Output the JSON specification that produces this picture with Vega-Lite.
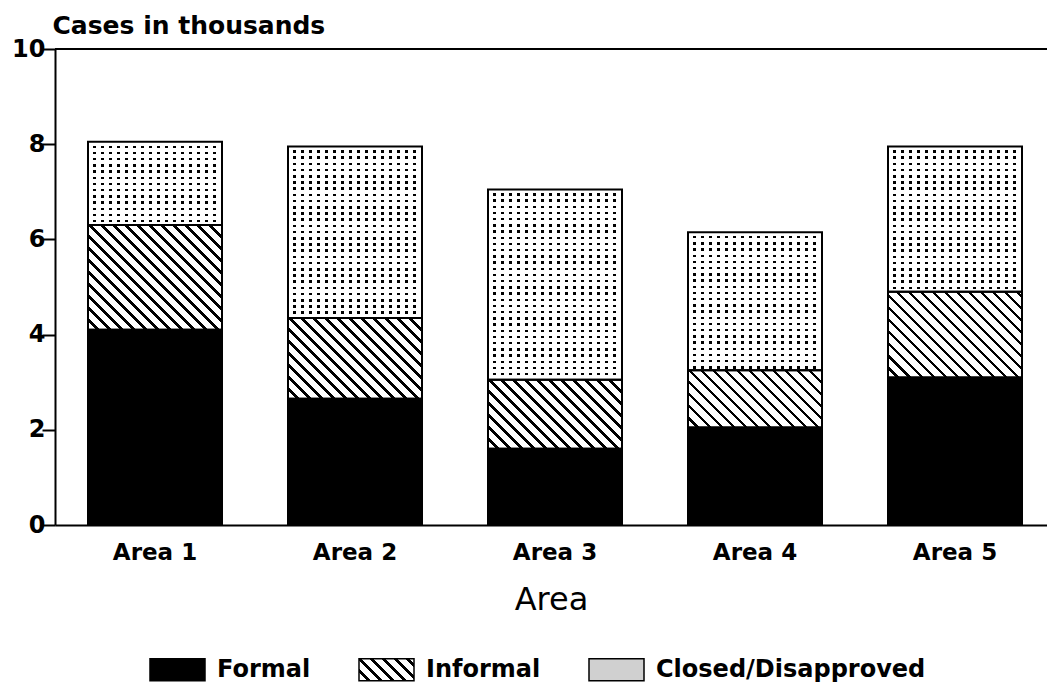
{
  "$schema": "https://vega.github.io/schema/vega-lite/v6.json",
  "width": 992,
  "height": 476,
  "autosize": {"type": "none"},
  "padding": {"left": 55, "top": 49, "right": 0, "bottom": 169},
  "background": "#ffffff",
  "config": {"view": {"stroke": null}},
  "params": [
    {"name": "hatchStops", "value": [
      {"offset":0,"color":"#fff"},{"offset":0.0175,"color":"#fff"},{"offset":0.0175,"color":"#000"},{"offset":0.025,"color":"#000"},
      {"offset":0.025,"color":"#fff"},{"offset":0.0425,"color":"#fff"},{"offset":0.0425,"color":"#000"},{"offset":0.05,"color":"#000"},
      {"offset":0.05,"color":"#fff"},{"offset":0.0675,"color":"#fff"},{"offset":0.0675,"color":"#000"},{"offset":0.075,"color":"#000"},
      {"offset":0.075,"color":"#fff"},{"offset":0.0925,"color":"#fff"},{"offset":0.0925,"color":"#000"},{"offset":0.1,"color":"#000"},
      {"offset":0.1,"color":"#fff"},{"offset":0.1175,"color":"#fff"},{"offset":0.1175,"color":"#000"},{"offset":0.125,"color":"#000"},
      {"offset":0.125,"color":"#fff"},{"offset":0.1425,"color":"#fff"},{"offset":0.1425,"color":"#000"},{"offset":0.15,"color":"#000"},
      {"offset":0.15,"color":"#fff"},{"offset":0.1675,"color":"#fff"},{"offset":0.1675,"color":"#000"},{"offset":0.175,"color":"#000"},
      {"offset":0.175,"color":"#fff"},{"offset":0.1925,"color":"#fff"},{"offset":0.1925,"color":"#000"},{"offset":0.2,"color":"#000"},
      {"offset":0.2,"color":"#fff"},{"offset":0.2175,"color":"#fff"},{"offset":0.2175,"color":"#000"},{"offset":0.225,"color":"#000"},
      {"offset":0.225,"color":"#fff"},{"offset":0.2425,"color":"#fff"},{"offset":0.2425,"color":"#000"},{"offset":0.25,"color":"#000"},
      {"offset":0.25,"color":"#fff"},{"offset":0.2675,"color":"#fff"},{"offset":0.2675,"color":"#000"},{"offset":0.275,"color":"#000"},
      {"offset":0.275,"color":"#fff"},{"offset":0.2925,"color":"#fff"},{"offset":0.2925,"color":"#000"},{"offset":0.3,"color":"#000"},
      {"offset":0.3,"color":"#fff"},{"offset":0.3175,"color":"#fff"},{"offset":0.3175,"color":"#000"},{"offset":0.325,"color":"#000"},
      {"offset":0.325,"color":"#fff"},{"offset":0.3425,"color":"#fff"},{"offset":0.3425,"color":"#000"},{"offset":0.35,"color":"#000"},
      {"offset":0.35,"color":"#fff"},{"offset":0.3675,"color":"#fff"},{"offset":0.3675,"color":"#000"},{"offset":0.375,"color":"#000"},
      {"offset":0.375,"color":"#fff"},{"offset":0.3925,"color":"#fff"},{"offset":0.3925,"color":"#000"},{"offset":0.4,"color":"#000"},
      {"offset":0.4,"color":"#fff"},{"offset":0.4175,"color":"#fff"},{"offset":0.4175,"color":"#000"},{"offset":0.425,"color":"#000"},
      {"offset":0.425,"color":"#fff"},{"offset":0.4425,"color":"#fff"},{"offset":0.4425,"color":"#000"},{"offset":0.45,"color":"#000"},
      {"offset":0.45,"color":"#fff"},{"offset":0.4675,"color":"#fff"},{"offset":0.4675,"color":"#000"},{"offset":0.475,"color":"#000"},
      {"offset":0.475,"color":"#fff"},{"offset":0.4925,"color":"#fff"},{"offset":0.4925,"color":"#000"},{"offset":0.5,"color":"#000"},
      {"offset":0.5,"color":"#fff"},{"offset":0.5175,"color":"#fff"},{"offset":0.5175,"color":"#000"},{"offset":0.525,"color":"#000"},
      {"offset":0.525,"color":"#fff"},{"offset":0.5425,"color":"#fff"},{"offset":0.5425,"color":"#000"},{"offset":0.55,"color":"#000"},
      {"offset":0.55,"color":"#fff"},{"offset":0.5675,"color":"#fff"},{"offset":0.5675,"color":"#000"},{"offset":0.575,"color":"#000"},
      {"offset":0.575,"color":"#fff"},{"offset":0.5925,"color":"#fff"},{"offset":0.5925,"color":"#000"},{"offset":0.6,"color":"#000"},
      {"offset":0.6,"color":"#fff"},{"offset":0.6175,"color":"#fff"},{"offset":0.6175,"color":"#000"},{"offset":0.625,"color":"#000"},
      {"offset":0.625,"color":"#fff"},{"offset":0.6425,"color":"#fff"},{"offset":0.6425,"color":"#000"},{"offset":0.65,"color":"#000"},
      {"offset":0.65,"color":"#fff"},{"offset":0.6675,"color":"#fff"},{"offset":0.6675,"color":"#000"},{"offset":0.675,"color":"#000"},
      {"offset":0.675,"color":"#fff"},{"offset":0.6925,"color":"#fff"},{"offset":0.6925,"color":"#000"},{"offset":0.7,"color":"#000"},
      {"offset":0.7,"color":"#fff"},{"offset":0.7175,"color":"#fff"},{"offset":0.7175,"color":"#000"},{"offset":0.725,"color":"#000"},
      {"offset":0.725,"color":"#fff"},{"offset":0.7425,"color":"#fff"},{"offset":0.7425,"color":"#000"},{"offset":0.75,"color":"#000"},
      {"offset":0.75,"color":"#fff"},{"offset":0.7675,"color":"#fff"},{"offset":0.7675,"color":"#000"},{"offset":0.775,"color":"#000"},
      {"offset":0.775,"color":"#fff"},{"offset":0.7925,"color":"#fff"},{"offset":0.7925,"color":"#000"},{"offset":0.8,"color":"#000"},
      {"offset":0.8,"color":"#fff"},{"offset":0.8175,"color":"#fff"},{"offset":0.8175,"color":"#000"},{"offset":0.825,"color":"#000"},
      {"offset":0.825,"color":"#fff"},{"offset":0.8425,"color":"#fff"},{"offset":0.8425,"color":"#000"},{"offset":0.85,"color":"#000"},
      {"offset":0.85,"color":"#fff"},{"offset":0.8675,"color":"#fff"},{"offset":0.8675,"color":"#000"},{"offset":0.875,"color":"#000"},
      {"offset":0.875,"color":"#fff"},{"offset":0.8925,"color":"#fff"},{"offset":0.8925,"color":"#000"},{"offset":0.9,"color":"#000"},
      {"offset":0.9,"color":"#fff"},{"offset":0.9175,"color":"#fff"},{"offset":0.9175,"color":"#000"},{"offset":0.925,"color":"#000"},
      {"offset":0.925,"color":"#fff"},{"offset":0.9425,"color":"#fff"},{"offset":0.9425,"color":"#000"},{"offset":0.95,"color":"#000"},
      {"offset":0.95,"color":"#fff"},{"offset":0.9675,"color":"#fff"},{"offset":0.9675,"color":"#000"},{"offset":0.975,"color":"#000"},
      {"offset":0.975,"color":"#fff"},{"offset":0.9925,"color":"#fff"},{"offset":0.9925,"color":"#000"},{"offset":1,"color":"#000"}
    ]},
    {"name": "dotStops", "value": [
      {"offset":0,"color":"#fff"},{"offset":0.015,"color":"#fff"},{"offset":0.015,"color":"rgba(255,255,255,0)"},{"offset":0.025,"color":"rgba(255,255,255,0)"},
      {"offset":0.025,"color":"#fff"},{"offset":0.04,"color":"#fff"},{"offset":0.04,"color":"rgba(255,255,255,0)"},{"offset":0.05,"color":"rgba(255,255,255,0)"},
      {"offset":0.05,"color":"#fff"},{"offset":0.065,"color":"#fff"},{"offset":0.065,"color":"rgba(255,255,255,0)"},{"offset":0.075,"color":"rgba(255,255,255,0)"},
      {"offset":0.075,"color":"#fff"},{"offset":0.09,"color":"#fff"},{"offset":0.09,"color":"rgba(255,255,255,0)"},{"offset":0.1,"color":"rgba(255,255,255,0)"},
      {"offset":0.1,"color":"#fff"},{"offset":0.115,"color":"#fff"},{"offset":0.115,"color":"rgba(255,255,255,0)"},{"offset":0.125,"color":"rgba(255,255,255,0)"},
      {"offset":0.125,"color":"#fff"},{"offset":0.14,"color":"#fff"},{"offset":0.14,"color":"rgba(255,255,255,0)"},{"offset":0.15,"color":"rgba(255,255,255,0)"},
      {"offset":0.15,"color":"#fff"},{"offset":0.165,"color":"#fff"},{"offset":0.165,"color":"rgba(255,255,255,0)"},{"offset":0.175,"color":"rgba(255,255,255,0)"},
      {"offset":0.175,"color":"#fff"},{"offset":0.19,"color":"#fff"},{"offset":0.19,"color":"rgba(255,255,255,0)"},{"offset":0.2,"color":"rgba(255,255,255,0)"},
      {"offset":0.2,"color":"#fff"},{"offset":0.215,"color":"#fff"},{"offset":0.215,"color":"rgba(255,255,255,0)"},{"offset":0.225,"color":"rgba(255,255,255,0)"},
      {"offset":0.225,"color":"#fff"},{"offset":0.24,"color":"#fff"},{"offset":0.24,"color":"rgba(255,255,255,0)"},{"offset":0.25,"color":"rgba(255,255,255,0)"},
      {"offset":0.25,"color":"#fff"},{"offset":0.265,"color":"#fff"},{"offset":0.265,"color":"rgba(255,255,255,0)"},{"offset":0.275,"color":"rgba(255,255,255,0)"},
      {"offset":0.275,"color":"#fff"},{"offset":0.29,"color":"#fff"},{"offset":0.29,"color":"rgba(255,255,255,0)"},{"offset":0.3,"color":"rgba(255,255,255,0)"},
      {"offset":0.3,"color":"#fff"},{"offset":0.315,"color":"#fff"},{"offset":0.315,"color":"rgba(255,255,255,0)"},{"offset":0.325,"color":"rgba(255,255,255,0)"},
      {"offset":0.325,"color":"#fff"},{"offset":0.34,"color":"#fff"},{"offset":0.34,"color":"rgba(255,255,255,0)"},{"offset":0.35,"color":"rgba(255,255,255,0)"},
      {"offset":0.35,"color":"#fff"},{"offset":0.365,"color":"#fff"},{"offset":0.365,"color":"rgba(255,255,255,0)"},{"offset":0.375,"color":"rgba(255,255,255,0)"},
      {"offset":0.375,"color":"#fff"},{"offset":0.39,"color":"#fff"},{"offset":0.39,"color":"rgba(255,255,255,0)"},{"offset":0.4,"color":"rgba(255,255,255,0)"},
      {"offset":0.4,"color":"#fff"},{"offset":0.415,"color":"#fff"},{"offset":0.415,"color":"rgba(255,255,255,0)"},{"offset":0.425,"color":"rgba(255,255,255,0)"},
      {"offset":0.425,"color":"#fff"},{"offset":0.44,"color":"#fff"},{"offset":0.44,"color":"rgba(255,255,255,0)"},{"offset":0.45,"color":"rgba(255,255,255,0)"},
      {"offset":0.45,"color":"#fff"},{"offset":0.465,"color":"#fff"},{"offset":0.465,"color":"rgba(255,255,255,0)"},{"offset":0.475,"color":"rgba(255,255,255,0)"},
      {"offset":0.475,"color":"#fff"},{"offset":0.49,"color":"#fff"},{"offset":0.49,"color":"rgba(255,255,255,0)"},{"offset":0.5,"color":"rgba(255,255,255,0)"},
      {"offset":0.5,"color":"#fff"},{"offset":0.515,"color":"#fff"},{"offset":0.515,"color":"rgba(255,255,255,0)"},{"offset":0.525,"color":"rgba(255,255,255,0)"},
      {"offset":0.525,"color":"#fff"},{"offset":0.54,"color":"#fff"},{"offset":0.54,"color":"rgba(255,255,255,0)"},{"offset":0.55,"color":"rgba(255,255,255,0)"},
      {"offset":0.55,"color":"#fff"},{"offset":0.565,"color":"#fff"},{"offset":0.565,"color":"rgba(255,255,255,0)"},{"offset":0.575,"color":"rgba(255,255,255,0)"},
      {"offset":0.575,"color":"#fff"},{"offset":0.59,"color":"#fff"},{"offset":0.59,"color":"rgba(255,255,255,0)"},{"offset":0.6,"color":"rgba(255,255,255,0)"},
      {"offset":0.6,"color":"#fff"},{"offset":0.615,"color":"#fff"},{"offset":0.615,"color":"rgba(255,255,255,0)"},{"offset":0.625,"color":"rgba(255,255,255,0)"},
      {"offset":0.625,"color":"#fff"},{"offset":0.64,"color":"#fff"},{"offset":0.64,"color":"rgba(255,255,255,0)"},{"offset":0.65,"color":"rgba(255,255,255,0)"},
      {"offset":0.65,"color":"#fff"},{"offset":0.665,"color":"#fff"},{"offset":0.665,"color":"rgba(255,255,255,0)"},{"offset":0.675,"color":"rgba(255,255,255,0)"},
      {"offset":0.675,"color":"#fff"},{"offset":0.69,"color":"#fff"},{"offset":0.69,"color":"rgba(255,255,255,0)"},{"offset":0.7,"color":"rgba(255,255,255,0)"},
      {"offset":0.7,"color":"#fff"},{"offset":0.715,"color":"#fff"},{"offset":0.715,"color":"rgba(255,255,255,0)"},{"offset":0.725,"color":"rgba(255,255,255,0)"},
      {"offset":0.725,"color":"#fff"},{"offset":0.74,"color":"#fff"},{"offset":0.74,"color":"rgba(255,255,255,0)"},{"offset":0.75,"color":"rgba(255,255,255,0)"},
      {"offset":0.75,"color":"#fff"},{"offset":0.765,"color":"#fff"},{"offset":0.765,"color":"rgba(255,255,255,0)"},{"offset":0.775,"color":"rgba(255,255,255,0)"},
      {"offset":0.775,"color":"#fff"},{"offset":0.79,"color":"#fff"},{"offset":0.79,"color":"rgba(255,255,255,0)"},{"offset":0.8,"color":"rgba(255,255,255,0)"},
      {"offset":0.8,"color":"#fff"},{"offset":0.815,"color":"#fff"},{"offset":0.815,"color":"rgba(255,255,255,0)"},{"offset":0.825,"color":"rgba(255,255,255,0)"},
      {"offset":0.825,"color":"#fff"},{"offset":0.84,"color":"#fff"},{"offset":0.84,"color":"rgba(255,255,255,0)"},{"offset":0.85,"color":"rgba(255,255,255,0)"},
      {"offset":0.85,"color":"#fff"},{"offset":0.865,"color":"#fff"},{"offset":0.865,"color":"rgba(255,255,255,0)"},{"offset":0.875,"color":"rgba(255,255,255,0)"},
      {"offset":0.875,"color":"#fff"},{"offset":0.89,"color":"#fff"},{"offset":0.89,"color":"rgba(255,255,255,0)"},{"offset":0.9,"color":"rgba(255,255,255,0)"},
      {"offset":0.9,"color":"#fff"},{"offset":0.915,"color":"#fff"},{"offset":0.915,"color":"rgba(255,255,255,0)"},{"offset":0.925,"color":"rgba(255,255,255,0)"},
      {"offset":0.925,"color":"#fff"},{"offset":0.94,"color":"#fff"},{"offset":0.94,"color":"rgba(255,255,255,0)"},{"offset":0.95,"color":"rgba(255,255,255,0)"},
      {"offset":0.95,"color":"#fff"},{"offset":0.965,"color":"#fff"},{"offset":0.965,"color":"rgba(255,255,255,0)"},{"offset":0.975,"color":"rgba(255,255,255,0)"},
      {"offset":0.975,"color":"#fff"},{"offset":0.99,"color":"#fff"},{"offset":0.99,"color":"rgba(255,255,255,0)"},{"offset":1,"color":"rgba(255,255,255,0)"}
    ]}
  ],
  "data": {"values": [
    {"area": "Area 1", "type": "Formal", "value": 4.1},
    {"area": "Area 1", "type": "Informal", "value": 2.2},
    {"area": "Area 1", "type": "Closed/Disapproved", "value": 1.75},
    {"area": "Area 2", "type": "Formal", "value": 2.65},
    {"area": "Area 2", "type": "Informal", "value": 1.7},
    {"area": "Area 2", "type": "Closed/Disapproved", "value": 3.6},
    {"area": "Area 3", "type": "Formal", "value": 1.6},
    {"area": "Area 3", "type": "Informal", "value": 1.45},
    {"area": "Area 3", "type": "Closed/Disapproved", "value": 4.0},
    {"area": "Area 4", "type": "Formal", "value": 2.05},
    {"area": "Area 4", "type": "Informal", "value": 1.2},
    {"area": "Area 4", "type": "Closed/Disapproved", "value": 2.9},
    {"area": "Area 5", "type": "Formal", "value": 3.1},
    {"area": "Area 5", "type": "Informal", "value": 1.8},
    {"area": "Area 5", "type": "Closed/Disapproved", "value": 3.05}
  ]},
  "transform": [
    {"stack": "value", "groupby": ["area"], "as": ["v0", "v1"]}
  ],
  "layer": [
    {
      "encoding": {
        "x": {
          "field": "area", "type": "nominal", "sort": null,
          "scale": {"paddingInner": 0.33, "paddingOuter": 0.145, "align": 0.569, "round": false},
          "axis": {
            "title": "Area", "labelAngle": 0, "ticks": false,
            "labelFont": "DejaVu Sans", "labelFontWeight": "bold", "labelFontSize": 23, "labelColor": "#000", "labelPadding": 16,
            "titleFont": "DejaVu Sans", "titleFontWeight": "normal", "titleFontSize": 32, "titleColor": "#000", "titlePadding": 20,
            "domainColor": "#000", "domainWidth": 2
          }
        },
        "y": {
          "field": "v0", "type": "quantitative",
          "scale": {"domain": [0, 10], "nice": false},
          "axis": {
            "orient": "left",
            "values": [0, 2, 4, 6, 8, 10], "grid": false, "ticks": true, "tickSize": 13, "tickWidth": 2, "tickColor": "#000",
            "title": "Cases in thousands", "titleAngle": 0, "titleAlign": "left", "titleBaseline": "alphabetic",
            "titleX": -3, "titleY": -16,
            "titleFont": "DejaVu Sans", "titleFontWeight": "bold", "titleFontSize": 25, "titleColor": "#000",
            "labelFont": "DejaVu Sans", "labelFontWeight": "bold", "labelFontSize": 24, "labelColor": "#000",
            "labelPadding": -3,
            "domainColor": "#000", "domainWidth": 2,
            "encode": {"ticks": {"x2": {"value": 13}}}
          }
        },
        "y2": {"field": "v1"}
      },
      "layer": [
        {
          "mark": {"type": "bar", "strokeWidth": 0},
          "encoding": {
            "fill": {
              "field": "type", "type": "nominal",
              "scale": {"domain": ["Formal", "Informal", "Closed/Disapproved"], "range": ["#000000", {"expr": "{gradient: 'linear', x1: 0, y1: 1, x2: 7.537, y2: -2.015, stops: hatchStops}"}, "#d0d0d0"]},
              "legend": {
                "orient": "none", "legendX": 94, "legendY": 592, "direction": "horizontal", "title": null,
                "symbolType": "M-1,-0.4H1V0.4H-1Z", "symbolSize": 3025,
                "symbolStrokeColor": "#000", "symbolStrokeWidth": 1.5,
                "labelFont": "DejaVu Sans", "labelFontWeight": "bold", "labelFontSize": 24, "labelColor": "#000",
                "labelOffset": 11, "columnPadding": 45, "padding": 0, "labelLimit": 400
              }
            }
          }
        },
        {
          "transform": [{"filter": "datum.type === 'Closed/Disapproved'"}],
          "mark": {"type": "bar", "strokeWidth": 0, "fill": "#000"},
          "encoding": {}
        },
        {
          "transform": [{"filter": "datum.type === 'Informal'"}],
          "mark": {"type": "bar", "strokeWidth": 0},
          "encoding": {
            "fill": {"value": {"expr": "{gradient: 'linear', x1: 0, y1: 1, x2: 480.833 * bandwidth('x') / (pow(bandwidth('x'), 2) + pow(scale('y', datum.v0) - scale('y', datum.v1), 2)), y2: 1 - 480.833 * (scale('y', datum.v0) - scale('y', datum.v1)) / (pow(bandwidth('x'), 2) + pow(scale('y', datum.v0) - scale('y', datum.v1), 2)), stops: hatchStops}"}}
          }
        },
        {
          "transform": [{"filter": "datum.type === 'Closed/Disapproved'"}],
          "mark": {"type": "bar", "strokeWidth": 0},
          "encoding": {
            "fill": {"value": {"expr": "{gradient: 'linear', x1: 0, y1: 0, x2: 320 / bandwidth('x'), y2: 0, stops: dotStops}"}}
          }
        },
        {
          "transform": [{"filter": "datum.type === 'Closed/Disapproved'"}],
          "mark": {"type": "bar", "strokeWidth": 0},
          "encoding": {
            "fill": {"value": {"expr": "{gradient: 'linear', x1: 0, y1: 0, x2: 0, y2: 248 / (scale('y', datum.v0) - scale('y', datum.v1)), stops: dotStops}"}}
          }
        },
        {
          "mark": {"type": "bar", "fill": "transparent", "stroke": "#000", "strokeWidth": 2},
          "encoding": {}
        }
      ]
    },
    {
      "mark": {"type": "rule", "color": "#000", "strokeWidth": 2},
      "encoding": {"y": {"datum": 10, "type": "quantitative"}}
    }
  ]
}
